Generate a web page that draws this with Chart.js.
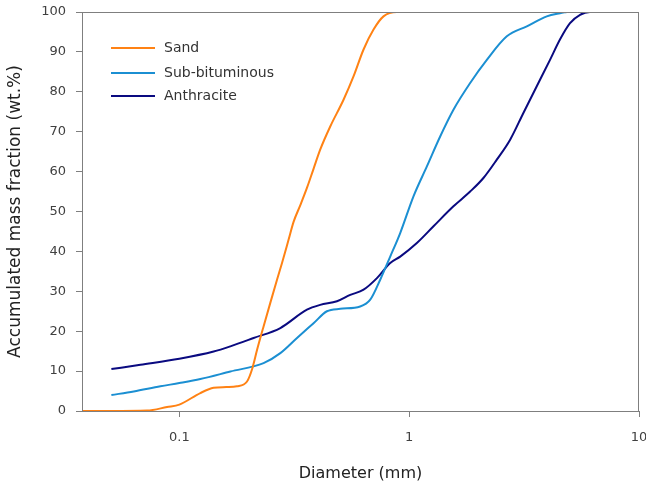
<!DOCTYPE html>
<html>
<head>
<meta charset="utf-8">
<script src="https://cdn.jsdelivr.net/npm/chart.js@4/dist/chart.umd.min.js"></script>
<style>
html,body{margin:0;padding:0;background:#fff;}
#wrap{width:646px;height:488px;position:relative;}
</style>
</head>
<body>
<div id="wrap"><canvas id="c" width="646" height="488"></canvas></div>
<script>
// Series data (diameter in mm, accumulated mass fraction in wt.%)
const seriesLabels = ["Sand", "Sub-bituminous", "Anthracite"];

const sandX = [0.0377, 0.05, 0.0724, 0.0884, 0.1, 0.1234, 0.141, 0.160, 0.178, 0.197, 0.207, 0.218, 0.2325, 0.2487, 0.266, 0.2797, 0.2986, 0.314, 0.336, 0.359, 0.3836, 0.410, 0.4534, 0.518, 0.573, 0.633, 0.6996, 0.773, 0.884, 0.929];
const sandY = [0, 0, 0.1, 1.0, 1.6, 4.5, 5.8, 6.0, 6.2, 7.4, 10.4, 15.4, 21.2, 27.1, 32.9, 37.1, 42.9, 47.4, 51.6, 55.9, 60.7, 65.5, 71.3, 78.0, 83.9, 90.6, 95.6, 98.9, 100, 100];

const subX = [0.0506, 0.0633, 0.0827, 0.1, 0.1234, 0.1667, 0.2325, 0.275, 0.325, 0.3836, 0.4386, 0.501, 0.612, 0.677, 0.748, 0.827, 0.914, 1.044, 1.194, 1.364, 1.558, 1.842, 2.177, 2.66, 3.25, 3.97, 4.53, 4.85];
const subY = [4.0, 4.9, 6.2, 7.0, 8.0, 9.9, 12.0, 14.5, 18.3, 22.0, 25.0, 25.6, 26.2, 27.9, 32.9, 38.7, 44.6, 53.8, 61.3, 68.8, 75.5, 82.2, 88.0, 93.9, 96.4, 98.9, 99.7, 100];

const anthX = [0.0506, 0.0677, 0.1, 0.141, 0.1667, 0.2104, 0.275, 0.359, 0.41, 0.485, 0.554, 0.633, 0.724, 0.827, 0.914, 1.080, 1.276, 1.558, 1.842, 2.104, 2.406, 2.75, 3.14, 3.59, 4.10, 4.53, 5.01, 5.54, 6.12, 6.65];
const anthY = [10.5, 11.6, 13.1, 14.9, 16.2, 18.3, 20.8, 25.4, 26.6, 27.5, 29.1, 30.4, 33.3, 37.1, 38.7, 42.1, 46.3, 51.3, 55.0, 58.4, 63.0, 68.0, 74.7, 81.4, 88.0, 93.1, 97.2, 99.3, 100, 100];

const xTickValues = [0.1, 1, 10];
const yTickValues = [0, 10, 20, 30, 40, 50, 60, 70, 80, 90, 100];

const colors = ["#FF8214", "#1B8FD2", "#0A0A80"];

function pts(xs, ys){ return xs.map((x,i)=>({x:x, y:ys[i]})); }

const TICKFONT = "'DejaVu Sans', sans-serif";
const TITLEFONT = "'DejaVu Sans', sans-serif";
const TXT = "#404040";

const frame = {
  id: 'frame',
  afterDatasetsDraw(chart){
    const {ctx, chartArea:a} = chart;
    ctx.save();
    ctx.strokeStyle = "#7f7f7f";
    ctx.lineWidth = 1;
    ctx.strokeRect(Math.round(a.left)+0.5, Math.round(a.top)+0.5, Math.round(a.right-a.left)-1, Math.round(a.bottom-a.top));
    ctx.restore();
  }
};

const innerLegend = {
  id: 'innerLegend',
  afterDraw(chart){
    const ctx = chart.ctx;
    ctx.save();
    ctx.font = "14px " + TICKFONT;
    ctx.textBaseline = "middle";
    const ys = [48, 73, 96];
    chart.data.datasets.forEach((ds, i) => {
      ctx.strokeStyle = ds.borderColor;
      ctx.lineWidth = 2;
      ctx.beginPath();
      ctx.moveTo(111, ys[i]);
      ctx.lineTo(155, ys[i]);
      ctx.stroke();
      ctx.fillStyle = "#333333";
      ctx.fillText(ds.label, 164, ys[i]);
    });
    ctx.restore();
  }
};

new Chart(document.getElementById('c'), {
  type: 'line',
  data: {
    datasets: [
      {label: seriesLabels[0], data: pts(sandX, sandY), borderColor: colors[0]},
      {label: seriesLabels[1], data: pts(subX, subY), borderColor: colors[1]},
      {label: seriesLabels[2], data: pts(anthX, anthY), borderColor: colors[2]}
    ].map(d => Object.assign(d, {borderWidth: 2, pointRadius: 0, fill: false, cubicInterpolationMode: 'monotone'}))
  },
  options: {
    responsive: false,
    animation: false,
    layout: {padding: {top: 12, right: 7, left: 0, bottom: 0}},
    plugins: {legend: {display: false}, tooltip: {enabled: false}},
    scales: {
      x: {
        type: 'logarithmic',
        min: 0.0377,
        max: 10,
        afterBuildTicks(s){ s.ticks = xTickValues.map(v => ({value: v})); },
        afterFit(s){ s.height = 77; s.paddingLeft = 0; s.paddingRight = 0; },
        ticks: {
          callback: v => String(v),
          color: TXT,
          font: {family: TICKFONT, size: 13},
          padding: 13,
          maxRotation: 0,
          autoSkip: false
        },
        grid: {drawOnChartArea: false, drawTicks: true, tickLength: 6, color: "#7f7f7f"},
        border: {display: true, color: "#7f7f7f"},
        title: {display: true, text: "Diameter (mm)", color: "#222", font: {family: TITLEFONT, size: 16}, padding: {top: 0, bottom: 5}}
      },
      y: {
        min: 0,
        max: 100,
        afterBuildTicks(s){ s.ticks = yTickValues.map(v => ({value: v})); },
        afterFit(s){ s.width = 82; s.paddingTop = 0; s.paddingBottom = 0; },
        ticks: {
          color: TXT,
          font: {family: TICKFONT, size: 13},
          padding: 10
        },
        grid: {drawOnChartArea: false, drawTicks: true, tickLength: 6, color: "#7f7f7f"},
        border: {display: true, color: "#7f7f7f"},
        title: {display: true, text: "Accumulated mass fraction (wt.%)", color: "#222", font: {family: TITLEFONT, size: 17}, padding: {top: 5, bottom: 4}}
      }
    }
  },
  plugins: [frame, innerLegend]
});
</script>
</body>
</html>
